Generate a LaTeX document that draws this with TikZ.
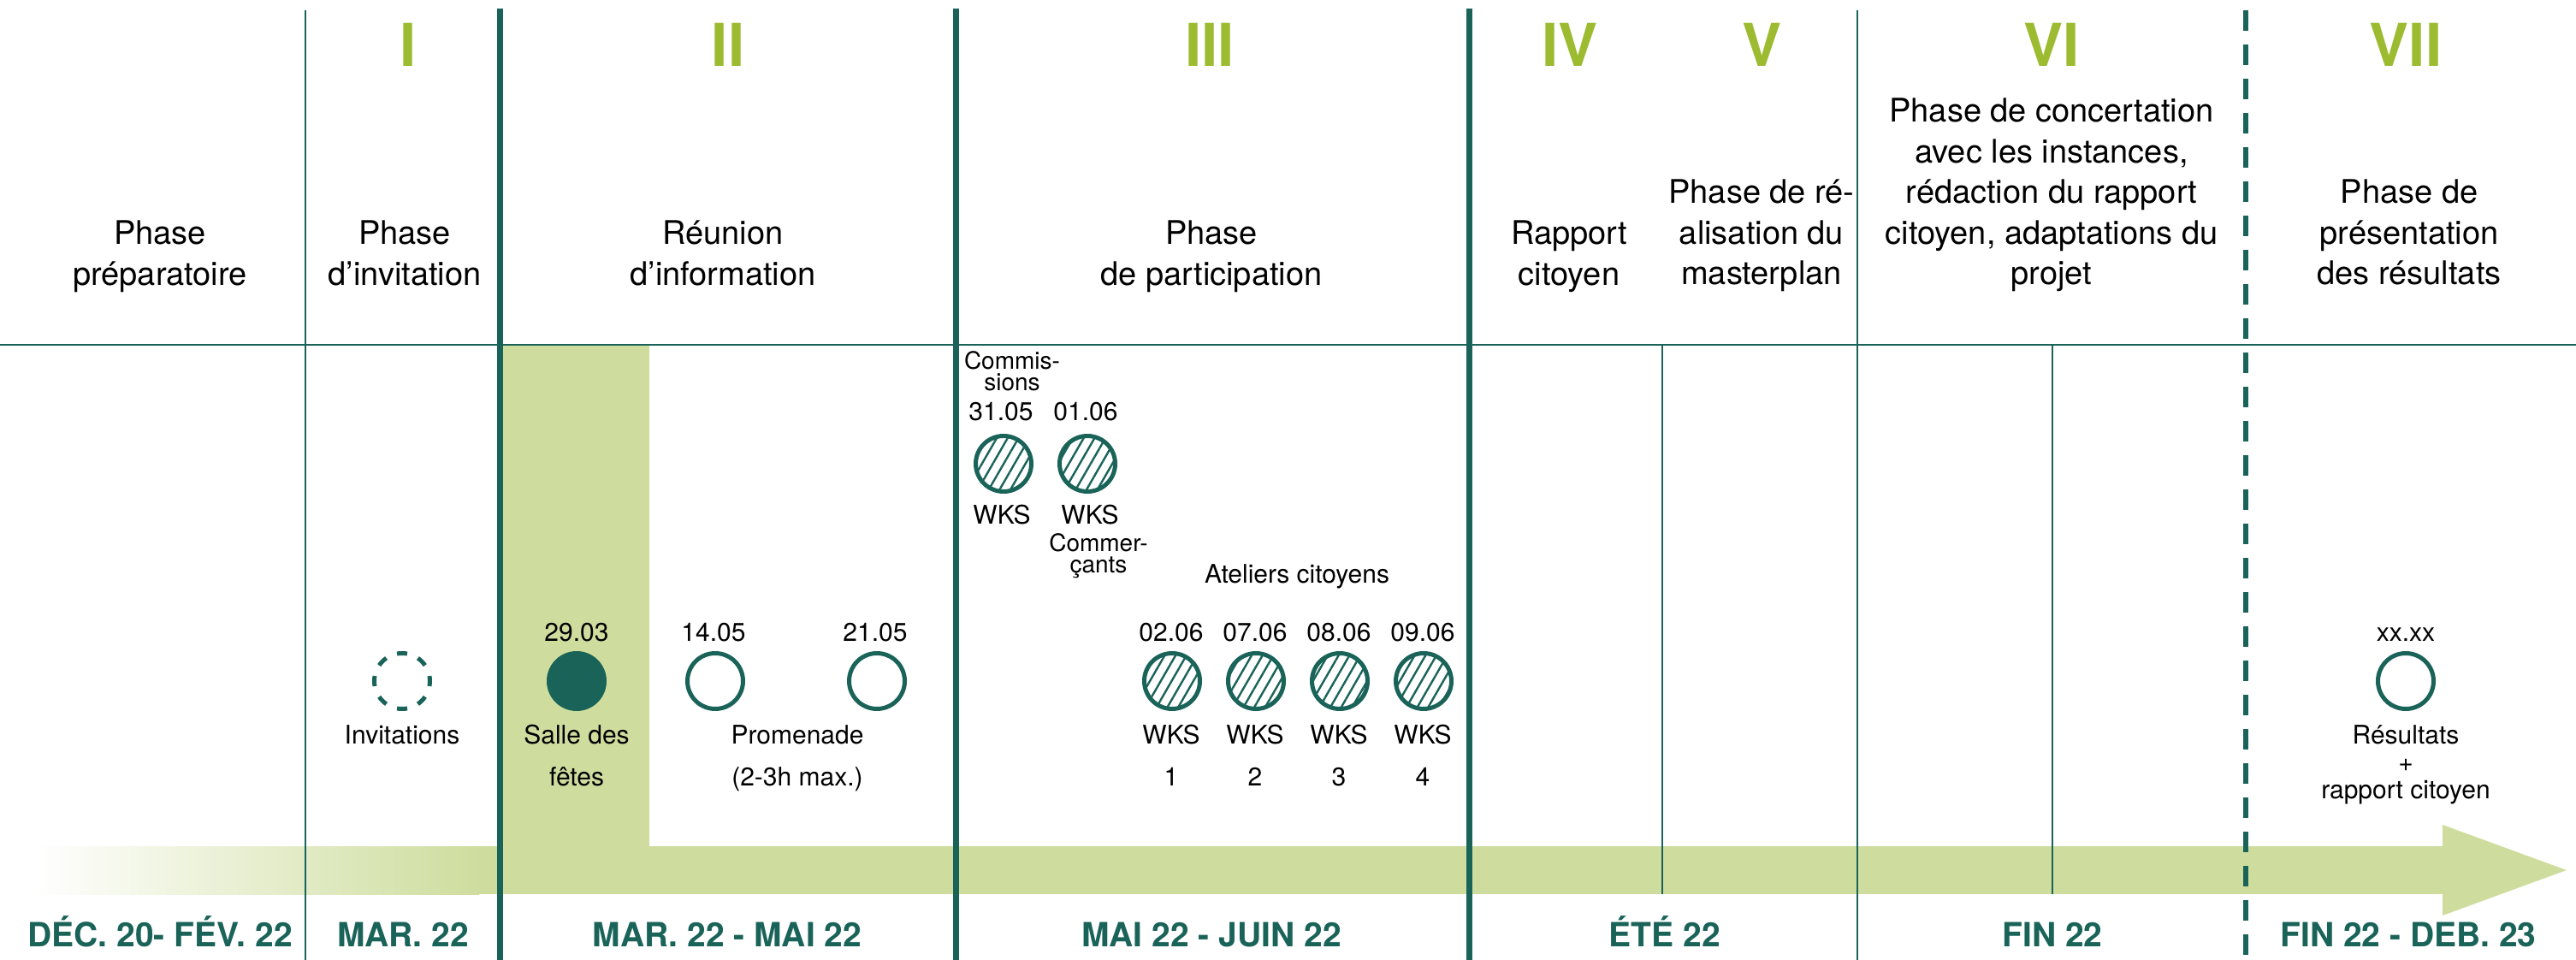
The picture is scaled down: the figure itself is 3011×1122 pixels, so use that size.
\documentclass[tikz,border=0pt]{standalone}
\usepackage{fontspec}
\setmainfont{TeX Gyre Heros}
\usetikzlibrary{patterns.meta}
\definecolor{dkgreen}{HTML}{1A6359}
\definecolor{numgreen}{HTML}{9CBB31}
\definecolor{bandgreen}{HTML}{CEDD9E}
\newcommand\stk[2]{\vtop{\baselineskip=#1\lineskiplimit=-100pt\lineskip=0pt\halign{\hfil##\hfil\cr#2\crcr}}}
\tikzset{
  hdr/.style={font=\fontsize{19}{24}\selectfont, anchor=base, inner sep=0pt},
  romnum/.style={font=\fontsize{34.5}{40}\selectfont\bfseries, text=numgreen, anchor=base, inner sep=0pt},
  lbl/.style={font=\fontsize{15}{18}\selectfont, anchor=base, inner sep=0pt},
  smlbl/.style={font=\fontsize{14}{16}\selectfont, anchor=base, inner sep=0pt},
  period/.style={font=\fontsize{19.5}{24}\selectfont\bfseries, text=dkgreen, anchor=base, inner sep=0pt},
  thinrule/.style={draw=dkgreen, line width=1pt},
  thickrule/.style={draw=dkgreen, line width=3.5pt},
  dashrule/.style={draw=dkgreen, line width=3pt, dash pattern=on 12pt off 8pt},
  evt/.style={circle, minimum size=32.5pt, inner sep=0pt, line width=2.5pt, draw=dkgreen},
  opencirc/.style={evt, fill=white},
  fullcirc/.style={evt, fill=dkgreen},
  dashcirc/.style={evt, dash pattern=on 6pt off 6.76pt, dash phase=3pt},
  hatchcirc/.style={evt, fill=white, postaction={pattern={Lines[angle=60, distance=5.5pt, line width=1.2pt]}, pattern color=dkgreen}},
}
\begin{document}
\begin{tikzpicture}[x=0.5pt, y=-0.5pt]
\useasboundingbox[fill=white] (0,0) rectangle (3011,1122);

% highlight column and band
\fill[bandgreen] (587,403) rectangle (759,990);
\fill[bandgreen] (559,989) rectangle (2856,1045);
\fill[bandgreen] (2855,964) -- (3000,1017) -- (2855,1070) -- cycle;
\shade[left color=white, right color=bandgreen] (40,989) rectangle (560,1045);

% rules
\draw[thinrule] (0,403) -- (3011,403);
\draw[thinrule] (357,12) -- (357,1122);
\draw[thinrule] (2171,12) -- (2171,1122);
\draw[thinrule] (1943,403) -- (1943,1045);
\draw[thinrule] (2399,403) -- (2399,1045);
\draw[thickrule] (584,10) -- (584,1122);
\draw[thickrule] (1117,10) -- (1117,1122);
\draw[thickrule] (1717,10) -- (1717,1122);
\draw[dashrule] (2625,12) -- (2625,1122);

% roman numerals
\node[romnum] (nI) at (477,78) {I};
\node[romnum] (nII) at (851,78) {II};
\node[romnum] (nIII) at (1414,78) {III};
\node[romnum] (nIV) at (1835,78) {IV};
\node[romnum] (nV) at (2059,78) {V};
\node[romnum] (nVI) at (2398,78) {VI};
\node[romnum] (nVII) at (2812,78) {VII};

% headers
\node[hdr] (h0) at (187,286) {\stk{23.75pt}{Phase\cr préparatoire}};
\node[hdr] (h1) at (473,286) {\stk{23.75pt}{Phase\cr d’invitation}};
\node[hdr] (h2) at (845,286) {\stk{23.75pt}{Réunion\cr d’information}};
\node[hdr] (h3) at (1416,286) {\stk{23.75pt}{Phase\cr de participation}};
\node[hdr] (h4) at (1834,286) {\stk{23.75pt}{Rapport\cr citoyen}};
\node[hdr] (h5) at (2059,238) {\stk{23.75pt}{Phase de ré-\cr alisation du\cr masterplan}};
\node[hdr] (h6) at (2398,143) {\stk{23.75pt}{Phase de concertation\cr avec les instances,\cr rédaction du rapport\cr citoyen, adaptations du\cr projet}};
\node[hdr] (h7) at (2816,238) {\stk{23.75pt}{Phase de\cr présentation\cr des résultats}};

% periods
\node[period] (p0) at (187,1106) {DÉC. 20- FÉV. 22};
\node[period] (p1) at (471,1106) {MAR. 22};
\node[period] (p2) at (850,1106) {MAR. 22 - MAI 22};
\node[period] (p3) at (1416,1106) {MAI 22 - JUIN 22};
\node[period] (p4) at (1946,1106) {ÉTÉ 22};
\node[period] (p5) at (2399,1106) {FIN 22};
\node[period] (p6) at (2815,1106) {FIN 22 - DEB. 23};

% phase I
\node[dashcirc] (inv) at (470,796) {};
\node[lbl] (invl) at (470,870) {Invitations};

% phase II
\node[fullcirc] (c2903) at (674,796) {};
\node[lbl] (d2903) at (674,749) {29.03};
\node[lbl] (l2903) at (674,870) {\stk{24.5pt}{Salle des\cr fêtes}};
\node[opencirc] (c1405) at (836,796) {};
\node[lbl] (d1405) at (834,749) {14.05};
\node[opencirc] (c2105) at (1025,796) {};
\node[lbl] (d2105) at (1023,749) {21.05};
\node[lbl] (prom) at (932,870) {\stk{24.5pt}{Promenade\cr (2-3h max.)}};

% phase III
\node[smlbl] (comm) at (1183,432) {\stk{12.5pt}{Commis-\cr sions}};
\node[lbl] (d3105) at (1170,492) {31.05};
\node[lbl] (d0106) at (1269,492) {01.06};
\node[hatchcirc] (w1) at (1173,542) {};
\node[hatchcirc] (w2) at (1271,542) {};
\node[lbl] (w1l) at (1171,613) {WKS};
\node[lbl] (w2l) at (1274,613) {WKS};
\node[smlbl] (comr) at (1284,645) {\stk{12.5pt}{Commer-\cr çants}};
\node[lbl] (atel) at (1516,682) {Ateliers citoyens};

\foreach \x/\d/\n in {1370/02.06/1, 1468/07.06/2, 1566/08.06/3, 1664/09.06/4}{
  \node[lbl] (ad\n) at (\x-1,749) {\d};
  \node[hatchcirc] (a\n) at (\x,796) {};
  \node[lbl] (al\n) at (\x-1,870) {\stk{24.5pt}{WKS\cr \n}};
}

% phase VII
\node[lbl] (dres) at (2812,749) {xx.xx};
\node[opencirc] (cres) at (2812,796) {};
\node[lbl] (lres) at (2812,870) {\stk{16pt}{Résultats\cr +\cr rapport citoyen}};
\end{tikzpicture}
\end{document}
